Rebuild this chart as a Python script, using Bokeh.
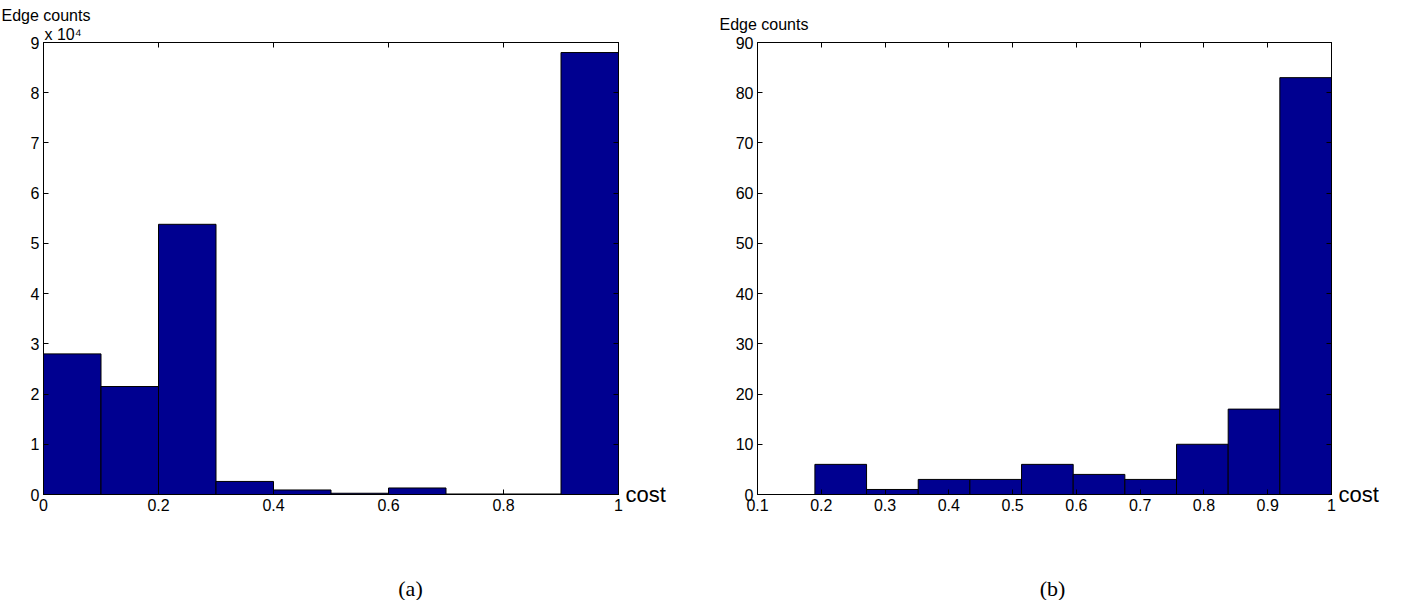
from bokeh.plotting import figure
from bokeh.models import FixedTicker, LinearAxis, Range1d, ColumnDataSource, Title, Label
from bokeh.layouts import row, column
from bokeh.embed import file_html
from bokeh.resources import INLINE

# ---------------- data ----------------
a_edges = [0.0, 0.1, 0.2, 0.3, 0.4, 0.5, 0.6, 0.7, 0.8, 0.9, 1.0]
a_counts = [28000, 21500, 53800, 2600, 900, 250, 1300, 100, 100, 88000]
a_exponent = 4
a_xticks = [0, 0.2, 0.4, 0.6, 0.8, 1.0]
a_xtick_labels = ["0", "0.2", "0.4", "0.6", "0.8", "1"]
a_yticks = [0, 1, 2, 3, 4, 5, 6, 7, 8, 9]
a_ytick_labels = ["0", "1", "2", "3", "4", "5", "6", "7", "8", "9"]

b_edges = [0.109, 0.19, 0.271, 0.352, 0.433, 0.514, 0.595, 0.676, 0.757, 0.838, 0.919, 1.0]
b_counts = [0, 6, 1, 3, 3, 6, 4, 3, 10, 17, 83]
b_xticks = [0.1, 0.2, 0.3, 0.4, 0.5, 0.6, 0.7, 0.8, 0.9, 1.0]
b_xtick_labels = ["0.1", "0.2", "0.3", "0.4", "0.5", "0.6", "0.7", "0.8", "0.9", "1"]
b_yticks = [0, 10, 20, 30, 40, 50, 60, 70, 80, 90]
b_ytick_labels = ["0", "10", "20", "30", "40", "50", "60", "70", "80", "90"]

y_label = "Edge counts"
x_label = "cost"
multiplier_label = "x 10\u2074"
captions = ["(a)", "(b)"]

BAR = "#000090"
FONT = "Liberation Sans"
TICK_SIZE = "16px"


def style_axis(ax, ticks, labels, show_labels=True):
    ax.ticker = FixedTicker(ticks=ticks)
    ax.major_label_overrides = {t: l for t, l in zip(ticks, labels)}
    ax.major_tick_in = 5
    ax.major_tick_out = 0
    ax.minor_tick_in = 0
    ax.minor_tick_out = 0
    ax.axis_line_color = "black"
    ax.major_tick_line_color = "black"
    ax.major_label_text_font = FONT
    if show_labels:
        ax.major_label_text_font_size = TICK_SIZE
        ax.major_label_text_color = "black"
        ax.major_label_standoff = 4
    else:
        ax.major_label_text_font_size = "1px"
        ax.major_label_text_color = None
        ax.major_label_standoff = 0


def make_panel(width, bl, br, xr, yr, edges, vals, xticks, xlabels, yticks, ylabels):
    p = figure(width=width, height=560, x_range=Range1d(*xr), y_range=Range1d(*yr),
               output_backend="svg", toolbar_location=None,
               min_border_left=bl, min_border_right=br, min_border_top=42, min_border_bottom=66)
    p.grid.visible = False
    p.outline_line_color = "black"
    p.outline_line_width = 1
    p.background_fill_color = "white"
    p.border_fill_color = "white"
    src = ColumnDataSource(dict(left=edges[:-1], right=edges[1:], top=vals))
    p.quad(left="left", right="right", top="top", bottom=0, source=src,
           fill_color=BAR, line_color="black", line_width=1)
    p.add_layout(LinearAxis(), "above")
    p.add_layout(LinearAxis(), "right")
    style_axis(p.below[0], xticks, xlabels)
    style_axis(p.left[0], yticks, ylabels)
    style_axis(p.above[0], xticks, xlabels, show_labels=False)
    style_axis(p.right[0], yticks, ylabels, show_labels=False)
    r = p.right[0]
    r.axis_label = x_label
    r.axis_label_text_font = FONT
    r.axis_label_text_font_size = "22px"
    r.axis_label_text_font_style = "normal"
    r.axis_label_text_color = "black"
    r.axis_label_orientation = "horizontal"
    r.axis_label_align = "start"
    r.axis_label_standoff = 7
    return p


def title(text, align, offset, size, standoff=0):
    return Title(text=text, align=align, offset=offset, text_font=FONT,
                 text_font_size=size, text_font_style="normal", text_color="black",
                 standoff=standoff)


# panel (a)
a_vals = [c / 10 ** a_exponent for c in a_counts]
pa = make_panel(692, 43, 74, (0, 1), (0, 9), a_edges, a_vals,
                a_xticks, a_xtick_labels, a_yticks, a_ytick_labels)
pa.add_layout(title(multiplier_label, "left", 1, "16px"), "above")
pa.add_layout(title(y_label, "left", -42, "16px"), "above")

# panel (b)
pb = make_panel(700, 65, 61, (0.1, 1), (0, 90), b_edges, b_counts,
                b_xticks, b_xtick_labels, b_yticks, b_ytick_labels)
pb.add_layout(title(y_label, "left", -38, "16px", standoff=20), "above")

# caption strip
cap = figure(width=1392, height=40, x_range=Range1d(0, 1392), y_range=Range1d(0, 40),
             output_backend="svg", toolbar_location=None, x_axis_type=None, y_axis_type=None,
             min_border=0, min_border_left=0, min_border_right=0, min_border_top=0,
             min_border_bottom=0)
cap.grid.visible = False
cap.outline_line_color = None
cap.border_fill_color = "white"
for xc, txt in zip([410, 1052], captions):
    cap.add_layout(Label(x=xc, y=12, x_units="screen", y_units="screen", text=txt,
                         text_font="Liberation Serif", text_font_size="22px",
                         text_align="center", text_baseline="middle", text_color="black"))

layout = column(row(pa, pb), cap)
open("out.html", "w").write(file_html(layout, INLINE))
